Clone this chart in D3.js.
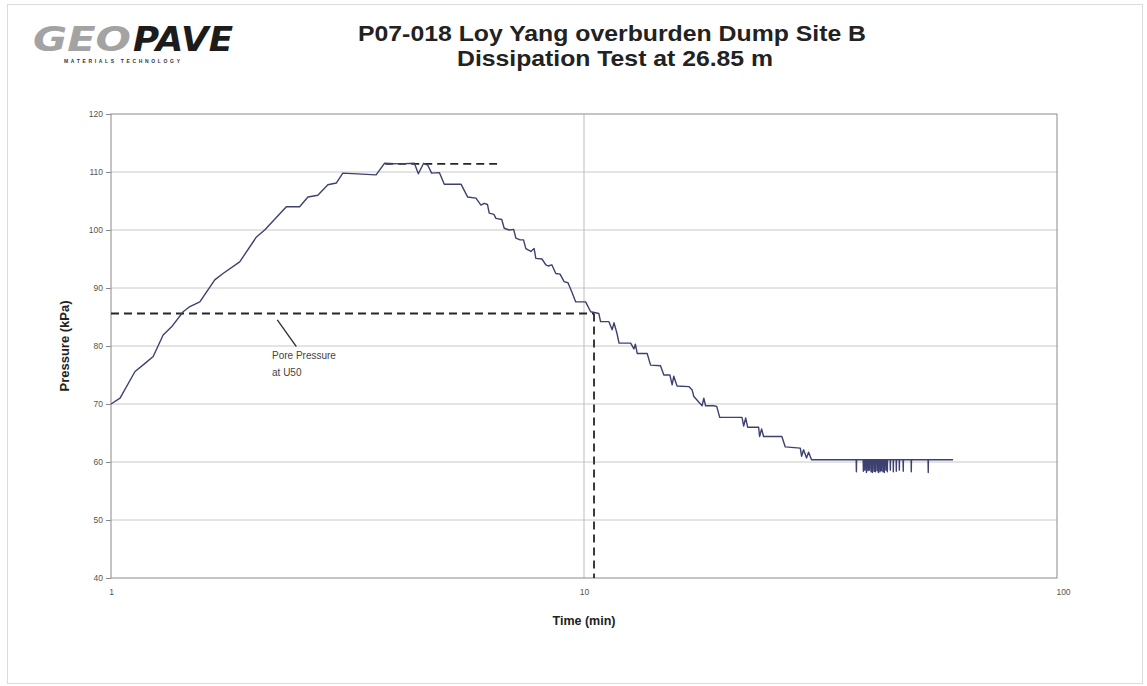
<!DOCTYPE html>
<html>
<head>
<meta charset="utf-8">
<script src="https://cdn.jsdelivr.net/npm/d3@7"></script>
<style>
  body { margin: 0; background: #fff; }
  svg { display: block; }
  text { font-family: "Liberation Sans", Arial, Helvetica, sans-serif; }
</style>
</head>
<body>
<svg id="chart" width="1147" height="686"></svg>
<script>
// ---- Data: CPTu dissipation test, pore pressure (kPa) against time (min) ----
// Build-up after the push stops
const buildUp = [
  [1.000, 70.0], [1.045, 71.0], [1.124, 75.6], [1.180, 77.0], [1.228, 78.2],
  [1.289, 81.9], [1.343, 83.3], [1.421, 85.9], [1.468, 86.8], [1.541, 87.6],
  [1.657, 91.4], [1.725, 92.5], [1.871, 94.5], [2.030, 98.8], [2.113, 100.0],
  [2.348, 104.0], [2.505, 104.0], [2.608, 105.7], [2.737, 106.0], [2.874, 107.8],
  [2.994, 108.1], [3.091, 109.8], [3.635, 109.5], [3.785, 111.5], [4.072, 111.4],
  [4.379, 111.5], [4.465, 109.7], [4.581, 111.5], [4.671, 111.2]
];
// Dissipation towards equilibrium
const dissipation = [
  [4.763, 109.8], [4.945, 109.9], [5.066, 107.9], [5.495, 107.9], [5.674, 105.7],
  [5.909, 105.5], [6.055, 104.3], [6.152, 104.6], [6.250, 104.4], [6.304, 102.9],
  [6.450, 102.7], [6.513, 102.0], [6.700, 101.8], [6.781, 100.3], [6.948, 100.0],
  [7.100, 100.1], [7.177, 98.6], [7.328, 98.3], [7.450, 98.3], [7.534, 96.8],
  [7.720, 96.3], [7.845, 96.8], [7.910, 95.1], [8.150, 95.0], [8.304, 94.0],
  [8.400, 93.8], [8.550, 94.0], [8.718, 92.5], [8.900, 92.4], [9.076, 91.1],
  [9.250, 90.9], [9.449, 89.1], [9.605, 87.6], [10.08, 87.6], [10.33, 85.9],
  [10.75, 85.6], [10.84, 84.2], [11.29, 84.2], [11.47, 82.8], [11.57, 84.0],
  [11.74, 82.2], [11.86, 80.5], [12.55, 80.5], [12.75, 79.5], [12.84, 80.3],
  [12.96, 78.7], [13.60, 78.7], [13.83, 76.7], [14.51, 76.6], [14.75, 75.0],
  [15.19, 75.0], [15.36, 73.3], [15.48, 74.8], [15.73, 73.1], [16.66, 73.0],
  [16.93, 72.4], [17.07, 71.3], [17.77, 69.7], [17.92, 71.0], [18.07, 69.7],
  [18.81, 69.7], [19.08, 69.6], [19.36, 67.7], [21.58, 67.7], [21.76, 66.2],
  [21.97, 67.6], [22.18, 66.0], [23.40, 66.0], [23.51, 64.4], [23.74, 65.7],
  [23.97, 64.4], [26.20, 64.4], [26.64, 62.6], [28.66, 62.4], [28.84, 61.0],
  [29.12, 62.1], [29.55, 60.7], [29.84, 61.7], [30.27, 60.4]
];
// Equilibrium reached, with sensor noise
const equilibrium = [
  [37.62, 60.4], [37.66, 58.3], [37.70, 60.4], [38.92, 60.4], [38.96, 58.4],
  [39.00, 60.4], [39.20, 60.4], [39.24, 58.6], [39.28, 60.4], [39.50, 60.4],
  [39.54, 58.2], [39.58, 60.4], [39.80, 60.4], [39.84, 58.5], [39.88, 60.4],
  [40.08, 60.4], [40.12, 58.6], [40.16, 60.4], [40.40, 60.4], [40.44, 58.3],
  [40.48, 60.4], [40.67, 60.4], [40.71, 58.2], [40.75, 60.4], [41.00, 60.4],
  [41.04, 58.4], [41.08, 60.4], [41.26, 60.4], [41.30, 58.3], [41.34, 60.4],
  [41.60, 60.4], [41.64, 58.5], [41.68, 60.4], [41.88, 60.4], [41.92, 58.2],
  [41.96, 60.4], [42.20, 60.4], [42.24, 58.3], [42.28, 60.4], [42.49, 60.4],
  [42.53, 58.5], [42.57, 60.4], [42.82, 60.4], [42.86, 58.3], [42.90, 60.4],
  [43.11, 60.4], [43.15, 58.2], [43.19, 60.4], [43.45, 60.4], [43.49, 58.6],
  [43.53, 60.4], [43.75, 60.4], [43.79, 58.3], [43.83, 60.4], [44.39, 60.4],
  [44.43, 58.6], [44.47, 60.4], [45.04, 60.4], [45.08, 58.3], [45.12, 60.4],
  [45.70, 60.4], [45.74, 58.4], [45.78, 60.4], [46.38, 60.4], [46.42, 58.6],
  [46.46, 60.4], [47.27, 60.4], [47.31, 58.4], [47.35, 60.4], [49.16, 60.4],
  [49.20, 58.3], [49.24, 60.4], [53.38, 60.4], [53.43, 58.2], [53.48, 60.4],
  [60.30, 60.4]
];

// Construction lines
const u50Pressure = 85.6;     // kPa
const t50Time = 10.5;         // min
const peakPressure = 111.4;   // kPa
const peakSpan = [3.8, 6.55]; // min

// Axis ticks
const yTicks = [40, 50, 60, 70, 80, 90, 100, 110, 120];
const xTicks = [1, 10, 100];

// ---- Layout ----
const svg = d3.select("#chart");
const plot = { left: 111, right: 1057, top: 114, bottom: 578 };

const x = d3.scaleLog().domain([1, 100]).range([plot.left, plot.right]);
const y = d3.scaleLinear().domain([40, 120]).range([plot.bottom, plot.top]);

// Outer chart frame
svg.append("rect")
  .attr("x", 7.5).attr("y", 4.5).attr("width", 1135).attr("height", 679)
  .attr("fill", "#fff").attr("stroke", "#dcdcdc").attr("stroke-width", 1);

// Logo
const logoFont = "\"DejaVu Sans\", \"Liberation Sans\", sans-serif";
const logo = svg.append("g").attr("transform", "translate(33,51)");
logo.append("text")
  .attr("x", 0).attr("y", 0)
  .style("font-family", logoFont)
  .attr("font-size", 33).attr("font-weight", 700).attr("font-style", "italic")
  .attr("fill", "#a3a3a3")
  .attr("textLength", 98).attr("lengthAdjust", "spacingAndGlyphs")
  .text("GEO");
logo.append("text")
  .attr("x", 100).attr("y", 0)
  .style("font-family", logoFont)
  .attr("font-size", 33).attr("font-weight", 700).attr("font-style", "italic")
  .attr("fill", "#1c1c1c")
  .attr("textLength", 100).attr("lengthAdjust", "spacingAndGlyphs")
  .text("PAVE");
logo.append("text")
  .attr("x", 31).attr("y", 12)
  .attr("font-size", 5).attr("font-weight", 700)
  .attr("fill", "#333")
  .attr("textLength", 116).attr("lengthAdjust", "spacing")
  .text("MATERIALS TECHNOLOGY");

// Title
const title = svg.append("text")
  .attr("text-anchor", "middle")
  .attr("font-size", 21.5).attr("font-weight", 700).attr("fill", "#222");
title.append("tspan").attr("x", 612).attr("y", 41)
  .attr("textLength", 508).attr("lengthAdjust", "spacingAndGlyphs")
  .text("P07-018 Loy Yang overburden Dump Site B");
title.append("tspan").attr("x", 615).attr("y", 66)
  .attr("textLength", 316).attr("lengthAdjust", "spacingAndGlyphs")
  .text("Dissipation Test at 26.85 m");

// Gridlines
svg.append("g")
  .selectAll("line")
  .data(yTicks.filter(v => v > 40 && v < 120))
  .join("line")
  .attr("x1", plot.left).attr("x2", plot.right)
  .attr("y1", d => y(d)).attr("y2", d => y(d))
  .attr("stroke", "#c8c8c8").attr("stroke-width", 1);

svg.append("line")
  .attr("x1", x(10)).attr("x2", x(10))
  .attr("y1", plot.top).attr("y2", plot.bottom)
  .attr("stroke", "#bdbdbd").attr("stroke-width", 1);

// Plot area border
svg.append("rect")
  .attr("x", plot.left).attr("y", plot.top)
  .attr("width", plot.right - plot.left).attr("height", plot.bottom - plot.top)
  .attr("fill", "none").attr("stroke", "#8a8a8a").attr("stroke-width", 1);

// Axes
const yAxis = svg.append("g")
  .attr("transform", `translate(${plot.left},0)`)
  .call(d3.axisLeft(y).tickValues(yTicks).tickSize(5).tickPadding(3));
yAxis.select(".domain").remove();
yAxis.selectAll("line").attr("stroke", "#8a8a8a");
yAxis.selectAll("text").attr("font-size", 8.5).attr("fill", "#555");

const xAxis = svg.append("g")
  .attr("transform", `translate(0,${plot.bottom})`)
  .call(d3.axisBottom(x).tickValues(xTicks).tickFormat(d3.format("d")).tickSize(0).tickPadding(11));
xAxis.select(".domain").remove();
xAxis.selectAll("text").attr("font-size", 8.5).attr("fill", "#555");
xAxis.selectAll(".tick").filter(d => d === 100).select("text").attr("dx", 6);

// Axis titles
svg.append("text")
  .attr("transform", `translate(69,${(plot.top + plot.bottom) / 2}) rotate(-90)`)
  .attr("text-anchor", "middle")
  .attr("font-size", 13).attr("font-weight", 700).attr("fill", "#222")
  .text("Pressure (kPa)");

svg.append("text")
  .attr("x", 584).attr("y", 625)
  .attr("text-anchor", "middle")
  .attr("font-size", 12.5).attr("font-weight", 700).attr("fill", "#222")
  .text("Time (min)");

// Construction lines (dashed)
const dash = { stroke: "#262626", width: 1.8, pattern: "8,5" };
svg.append("line")
  .attr("x1", x(1)).attr("x2", x(t50Time))
  .attr("y1", y(u50Pressure)).attr("y2", y(u50Pressure))
  .attr("stroke", dash.stroke).attr("stroke-width", dash.width)
  .attr("stroke-dasharray", dash.pattern);
svg.append("line")
  .attr("x1", x(t50Time)).attr("x2", x(t50Time))
  .attr("y1", y(u50Pressure)).attr("y2", y(40))
  .attr("stroke", dash.stroke).attr("stroke-width", dash.width)
  .attr("stroke-dasharray", dash.pattern);
svg.append("line")
  .attr("x1", x(peakSpan[0])).attr("x2", x(peakSpan[1]))
  .attr("y1", y(peakPressure)).attr("y2", y(peakPressure))
  .attr("stroke", dash.stroke).attr("stroke-width", dash.width)
  .attr("stroke-dasharray", dash.pattern);

// Pore pressure curve
const readings = buildUp.concat(dissipation, equilibrium);
const line = d3.line().x(d => x(d[0])).y(d => y(d[1]));
svg.append("path")
  .datum(readings)
  .attr("d", line)
  .attr("fill", "none")
  .attr("stroke", "#3d4170")
  .attr("stroke-width", 1.4)
  .attr("stroke-linejoin", "round");

// Annotation for U50
svg.append("line")
  .attr("x1", x(2.247)).attr("y1", y(84.5))
  .attr("x2", x(2.465)).attr("y2", y(79.9))
  .attr("stroke", "#333").attr("stroke-width", 1.4);
const note = svg.append("text")
  .attr("font-size", 10).attr("fill", "#444");
note.append("tspan").attr("x", x(2.19)).attr("y", y(77.8)).text("Pore Pressure");
note.append("tspan").attr("x", x(2.19)).attr("y", y(74.8)).text("at U50");
</script>
</body>
</html>
